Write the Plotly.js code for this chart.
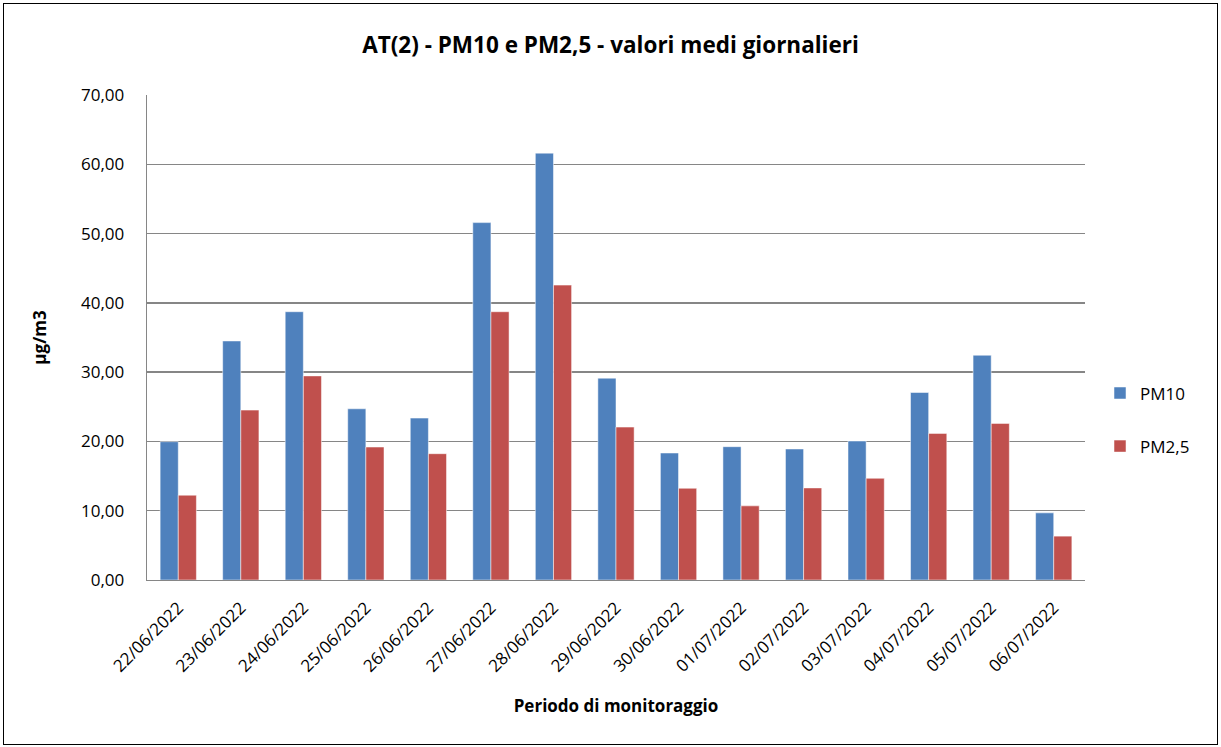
<!DOCTYPE html>
<html>
<head>
<meta charset="utf-8">
<script src="https://cdn.plot.ly/plotly-3.0.1.min.js"></script>
<style>
  html, body { margin: 0; padding: 0; background: #fff; }
  #frame { position: absolute; left: 3px; top: 3px; width: 1213px; height: 740px; border: 1px solid #000; }
  #chart { width: 1213px; height: 740px; }
</style>
</head>
<body>
<div id="frame"><div id="chart"></div></div>
<script>
const categories = ["22/06/2022","23/06/2022","24/06/2022","25/06/2022","26/06/2022","27/06/2022","28/06/2022","29/06/2022","30/06/2022","01/07/2022","02/07/2022","03/07/2022","04/07/2022","05/07/2022","06/07/2022"];
const pm10 = [19.96, 34.50, 38.72, 24.71, 23.37, 51.58, 61.61, 29.13, 18.33, 19.24, 18.91, 20.06, 27.06, 32.44, 9.69];
const pm25 = [12.24, 24.52, 29.46, 19.19, 18.23, 38.72, 42.56, 22.07, 13.24, 10.70, 13.29, 14.68, 21.16, 22.60, 6.33];
const seriesNames = ["PM10", "PM2,5"];
const titleText = "AT(2) - PM10 e PM2,5 - valori medi giornalieri";
const xTitle = "Periodo di monitoraggio";
const yTitle = "µg/m3";

const font = "Open Sans, Noto Sans, sans-serif";
const traces = [
  { type: "bar", name: seriesNames[0], x: categories, y: pm10, legendgroup: "a",
    marker: { color: "#4F81BD", line: { color: "#FFFFFF", width: 0.5 } } },
  { type: "bar", name: seriesNames[1], x: categories, y: pm25, legendgroup: "b",
    marker: { color: "#C0504D", line: { color: "#FFFFFF", width: 0.5 } } }
];
const layout = {
  width: 1213, height: 740,
  margin: { l: 143, r: 132, t: 91, b: 164, pad: 0 },
  paper_bgcolor: "#fff", plot_bgcolor: "#fff",
  separators: ",.",
  font: { family: font, size: 17, color: "#000" },
  title: { text: "<b>" + titleText + "</b>", font: { family: font, size: 22.5, color: "#000" },
           x: 0.5, xanchor: "center", y: 0.945, yanchor: "middle" },
  barmode: "group", bargap: 0.42, bargroupgap: 0,
  xaxis: {
    type: "category", tickangle: -45, showline: true, linecolor: "#868686", linewidth: 1.3,
    ticks: "", ticklabelstandoff: 10,
    tickfont: { family: font, size: 17, color: "#000" },
    title: { text: "<b>" + xTitle + "</b>", font: { family: font, size: 17, color: "#000" }, standoff: 24 }
  },
  yaxis: {
    range: [0, 70], dtick: 10, tickformat: ".2f", showgrid: true, gridcolor: "#868686", gridwidth: 1.3,
    showline: true, linecolor: "#868686", linewidth: 1.3, ticks: "", ticklabelstandoff: 18,
    zeroline: false, tickfont: { family: font, size: 17, color: "#000" },
    title: { text: "<b>" + yTitle + "</b>", font: { family: font, size: 17, color: "#000" }, standoff: 30 }
  },
  legend: { x: 1.016, xanchor: "left", y: 0.33, yanchor: "middle", traceorder: "grouped", tracegroupgap: 28,
            font: { family: font, size: 17, color: "#000" } },
  showlegend: true
};
Plotly.newPlot("chart", traces, layout, { displayModeBar: false, staticPlot: true });
</script>
</body>
</html>
